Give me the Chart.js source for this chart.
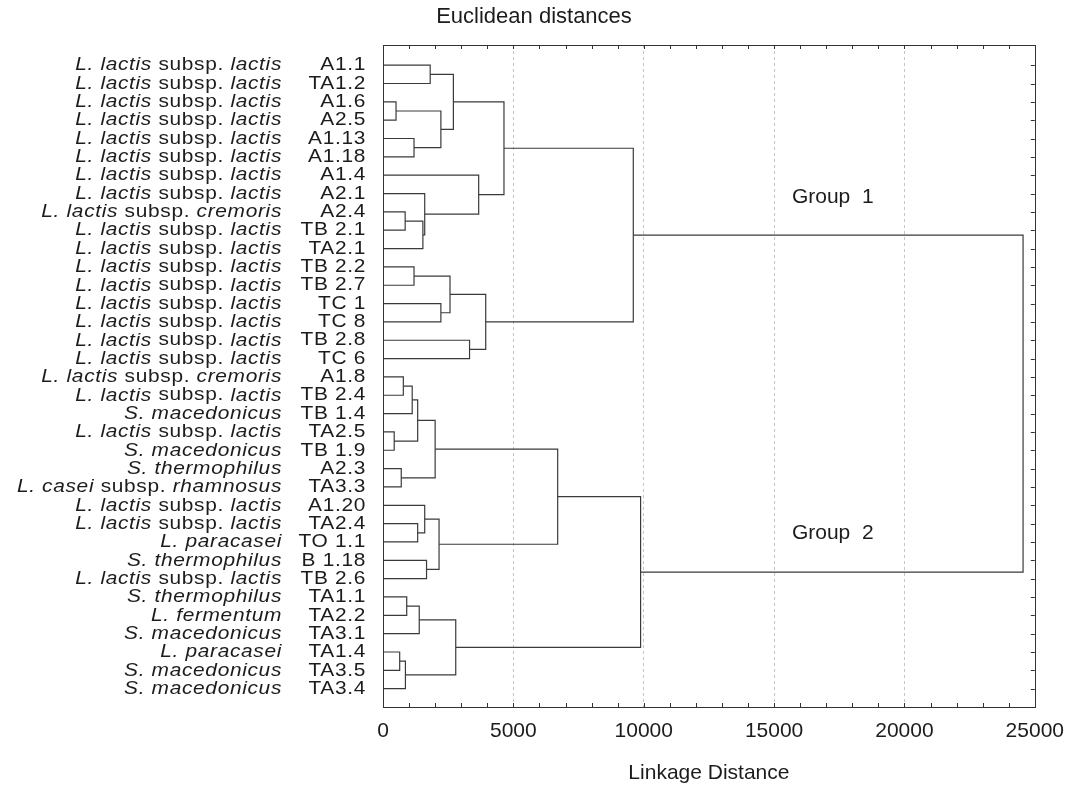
<!DOCTYPE html>
<html lang="en">
<head>
<meta charset="UTF-8" />
<title>Euclidean distances</title>
<script src="https://cdn.jsdelivr.net/npm/chart.js"></script>
<style>
  body { margin: 0; background: #fff; }
  #wrap { width: 1076px; height: 786px; }
</style>
</head>
<body>
<div id="wrap"><canvas id="dendro" width="1076" height="786"></canvas></div>
<script>
// leaf labels, top to bottom (_text_ = italic)
const species = [
  "_L. lactis_ subsp. _lactis_", "_L. lactis_ subsp. _lactis_", "_L. lactis_ subsp. _lactis_",
  "_L. lactis_ subsp. _lactis_", "_L. lactis_ subsp. _lactis_", "_L. lactis_ subsp. _lactis_",
  "_L. lactis_ subsp. _lactis_", "_L. lactis_ subsp. _lactis_", "_L. lactis_ subsp. _cremoris_",
  "_L. lactis_ subsp. _lactis_", "_L. lactis_ subsp. _lactis_", "_L. lactis_ subsp. _lactis_",
  "_L. lactis_ subsp. _lactis_", "_L. lactis_ subsp. _lactis_", "_L. lactis_ subsp. _lactis_",
  "_L. lactis_ subsp. _lactis_", "_L. lactis_ subsp. _lactis_", "_L. lactis_ subsp. _cremoris_",
  "_L. lactis_ subsp. _lactis_", "_S. macedonicus_", "_L. lactis_ subsp. _lactis_",
  "_S. macedonicus_", "_S. thermophilus_", "_L. casei_ subsp. _rhamnosus_",
  "_L. lactis_ subsp. _lactis_", "_L. lactis_ subsp. _lactis_", "_L. paracasei_",
  "_S. thermophilus_", "_L. lactis_ subsp. _lactis_", "_S. thermophilus_",
  "_L. fermentum_", "_S. macedonicus_", "_L. paracasei_",
  "_S. macedonicus_", "_S. macedonicus_"
];
const strains = [
  "A1.1", "TA1.2", "A1.6", "A2.5", "A1.13", "A1.18", "A1.4", "A2.1", "A2.4",
  "TB 2.1", "TA2.1", "TB 2.2", "TB 2.7", "TC 1", "TC 8", "TB 2.8", "TC 6",
  "A1.8", "TB 2.4", "TB 1.4", "TA2.5", "TB 1.9", "A2.3", "TA3.3",
  "A1.20", "TA2.4", "TO 1.1", "B 1.18", "TB 2.6",
  "TA1.1", "TA2.2", "TA3.1", "TA1.4", "TA3.5", "TA3.4"
];

// linkage steps: ids < 35 are leaves, id 35 + k is the cluster made at step k
const mergeLeft   = [0, 2, 4, 36, 35, 8, 40, 7, 6, 39, 11, 13, 45, 15, 47, 44,
                     17, 51, 20, 52, 22, 54, 25, 24, 27, 58, 56, 29, 62, 32, 64, 63, 61, 50];
const mergeRight  = [1, 3, 5, 37, 38, 9, 10, 41, 42, 43, 12, 14, 46, 16, 48, 49,
                     18, 19, 21, 53, 23, 55, 26, 57, 28, 59, 60, 30, 31, 33, 34, 65, 66, 67];
const mergeHeight = [1810, 500, 1190, 2220, 2700, 850, 1530, 1600, 3670, 4640, 1190, 2220, 2570, 3320, 3940, 9600,
                     780, 1120, 430, 1330, 700, 2000, 1330, 1600, 1670, 2150, 6700, 910, 1390, 640, 860, 2790, 9880, 24550];

const xTicks = [0, 5000, 10000, 15000, 20000, 25000];
const minorStep = 1000;
const groupNotes = [
  { text: "Group  1", x: 17250, y: 7.2 },
  { text: "Group  2", x: 17250, y: 25.5 }
];

const FONT = "'Liberation Sans', Arial, Helvetica, sans-serif";
const INK = "#1c1c1c";
const LINE = "#3a3a3a";

// build the U-shaped links of the dendrogram
const nodeY = species.map((_, i) => i);
const nodeH = species.map(() => 0);
const links = [];
mergeLeft.forEach((a, k) => {
  const b = mergeRight[k], h = mergeHeight[k];
  links.push([
    { x: nodeH[a], y: nodeY[a] },
    { x: h, y: nodeY[a] },
    { x: h, y: nodeY[b] },
    { x: nodeH[b], y: nodeY[b] }
  ]);
  nodeY.push((nodeY[a] + nodeY[b]) / 2);
  nodeH.push(h);
});

const framePlugin = {
  id: "frame",
  afterDatasetsDraw(chart) {
    const { ctx, chartArea: a, scales: { x, y } } = chart;
    ctx.save();
    ctx.strokeStyle = "#333";
    ctx.lineWidth = 1;
    ctx.strokeRect(Math.round(a.left) + 0.5, Math.round(a.top) + 0.5,
                   Math.round(a.right - a.left), Math.round(a.bottom - a.top));
    ctx.beginPath();
    for (let v = minorStep; v < xTicks[xTicks.length - 1]; v += minorStep) {
      const px = Math.round(x.getPixelForValue(v)) + 0.5;
      ctx.moveTo(px, a.top); ctx.lineTo(px, a.top + 4);
      ctx.moveTo(px, a.bottom); ctx.lineTo(px, a.bottom - 4);
    }
    species.forEach((s, i) => {
      const py = Math.round(y.getPixelForValue(i)) + 0.5;
      ctx.moveTo(a.right, py); ctx.lineTo(a.right - 4, py);
    });
    ctx.stroke();
    ctx.restore();
  }
};

const labelPlugin = {
  id: "leafLabels",
  afterDraw(chart) {
    const { ctx, scales: { x, y } } = chart;
    ctx.save();
    ctx.fillStyle = INK;
    ctx.textBaseline = "middle";

    // chart title, set over the left part of the plot as in the original
    ctx.font = "22px " + FONT;
    ctx.textAlign = "center";
    ctx.fillText("Euclidean distances", 534, 17);

    // leaf labels: glyphs a little wider than the font, like the source figure
    const stretch = 1.1, speciesRight = 282, strainRight = 366;
    if ("letterSpacing" in ctx) ctx.letterSpacing = "0.6px";
    species.forEach((s, i) => {
      const py = y.getPixelForValue(i);
      const parts = s.split("_").map((t, j) => ({ t, it: j % 2 === 1 })).filter(p => p.t);
      let total = 0;
      parts.forEach(p => {
        ctx.font = (p.it ? "italic " : "") + "19px " + FONT;
        p.w = ctx.measureText(p.t).width;
        total += p.w;
      });
      ctx.save();
      ctx.translate(speciesRight, py);
      ctx.scale(stretch, 1);
      ctx.textAlign = "left";
      let px = -total;
      parts.forEach(p => {
        ctx.font = (p.it ? "italic " : "") + "19px " + FONT;
        ctx.fillText(p.t, px, 0);
        px += p.w;
      });
      ctx.restore();

      ctx.save();
      ctx.translate(strainRight, py);
      ctx.scale(stretch, 1);
      ctx.font = "19px " + FONT;
      ctx.textAlign = "right";
      ctx.fillText(strains[i], 0, 0);
      ctx.restore();
    });
    if ("letterSpacing" in ctx) ctx.letterSpacing = "0px";
    ctx.font = "21px " + FONT;
    ctx.textAlign = "center";
    groupNotes.forEach(g => ctx.fillText(g.text, x.getPixelForValue(g.x), y.getPixelForValue(g.y)));
    ctx.restore();
  }
};

new Chart(document.getElementById("dendro"), {
  type: "scatter",
  data: {
    datasets: links.map(pts => ({
      data: pts,
      showLine: true,
      pointRadius: 0,
      borderColor: LINE,
      borderWidth: 1.2,
      fill: false,
      tension: 0
    }))
  },
  options: {
    responsive: false,
    animation: false,
    layout: { padding: { left: 383, right: 41, top: 45, bottom: 0 } },
    plugins: {
      legend: { display: false },
      tooltip: { enabled: false },
      title: { display: false }
    },
    scales: {
      x: {
        type: "linear",
        min: 0,
        max: 25000,
        afterBuildTicks: s => { s.ticks = xTicks.map(v => ({ value: v })); },
        afterFit: s => { s.height = 79; },
        ticks: {
          color: INK,
          font: { family: FONT, size: 21 },
          padding: 12,
          maxRotation: 0,
          autoSkip: false,
          callback: v => String(v)
        },
        grid: {
          drawTicks: false,
          color: c => (c.tick && c.tick.value > 0 && c.tick.value < 25000) ? "#c4c4c4" : "rgba(0,0,0,0)"
        },
        border: { display: false, dash: [3, 3] },
        title: {
          display: true,
          text: "Linkage Distance",
          color: INK,
          font: { family: FONT, size: 21 },
          padding: { top: 0, bottom: 0 }
        }
      },
      y: { type: "linear", min: -1.1, max: 35, reverse: true, display: false }
    }
  },
  plugins: [framePlugin, labelPlugin]
});
</script>
</body>
</html>
